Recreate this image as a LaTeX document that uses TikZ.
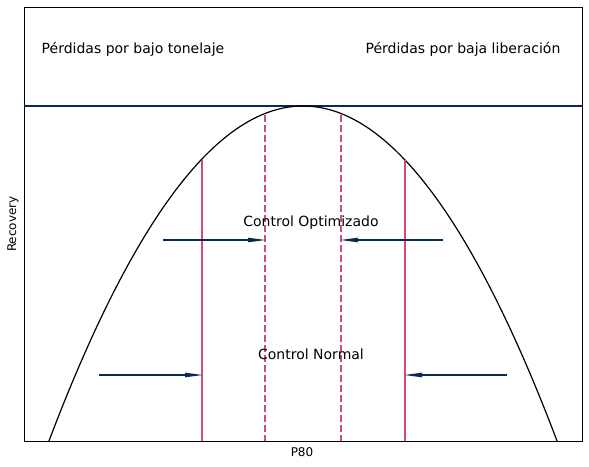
\documentclass[tikz,border=0pt]{standalone}
\usepackage{fontspec}
\setmainfont{DejaVu Sans}
\usetikzlibrary{positioning, calc, arrows.meta}
\definecolor{navyline}{RGB}{8,42,84}
\definecolor{limitpink}{RGB}{204,76,128}

\begin{document}
\begin{tikzpicture}[x=1pt, y=-1pt,
    zone/.style={font=\fontsize{14}{16}\selectfont, anchor=base},
    axislabel/.style={font=\fontsize{12}{14}\selectfont},
    normal/.style={limitpink, line width=1.5pt},
    optimo/.style={limitpink, line width=1.5pt, dash pattern=on 7pt off 3pt},
    push/.style={navyline, line width=2pt, shorten >=-3pt, -{Triangle[length=20pt, width=4pt]}}]
\useasboundingbox (0,0) rectangle (589,466);
% axes frame and target line
\draw[line width=0.8pt] (24,7) rectangle (582,441);
\draw[navyline, line width=2pt] (24,106) -- (582,106);
\begin{scope}
\clip (24,7) rectangle (582,441);
\draw[line width=1.2pt] plot[domain=45:561, samples=120] (\x, {106+51.9*((\x-303)/100)^2});
\end{scope}
% limits
\draw[normal] (202,160) -- (202,441);
\draw[normal] (405,160) -- (405,441);
\draw[optimo] (265,115) -- (265,441);
\draw[optimo] (341,115) -- (341,441);
% labels
\node[zone] (bajo) at (133,53) {Pérdidas por bajo tonelaje};
\node[zone] (alta) at (463,53) {Pérdidas por baja liberación};
\node[zone] (opt) at (311,226) {Control Optimizado};
\node[zone] (nor) at (311,359) {Control Normal};
\node[axislabel, rotate=90] (ylab) at (13,224) {Recovery};
\node[axislabel] (xlab) at (302,452) {P80};
% arrows
\coordinate (o1) at (163,240); \coordinate (o2) at (265,240);
\coordinate (o3) at (443,240); \coordinate (o4) at (341,240);
\coordinate (n1) at (99,375);  \coordinate (n2) at (202,375);
\coordinate (n3) at (507,375); \coordinate (n4) at (405,375);
\draw[push] (o1) -- (o2);
\draw[push] (o3) -- (o4);
\draw[push] (n1) -- (n2);
\draw[push] (n3) -- (n4);
\end{tikzpicture}
\end{document}
